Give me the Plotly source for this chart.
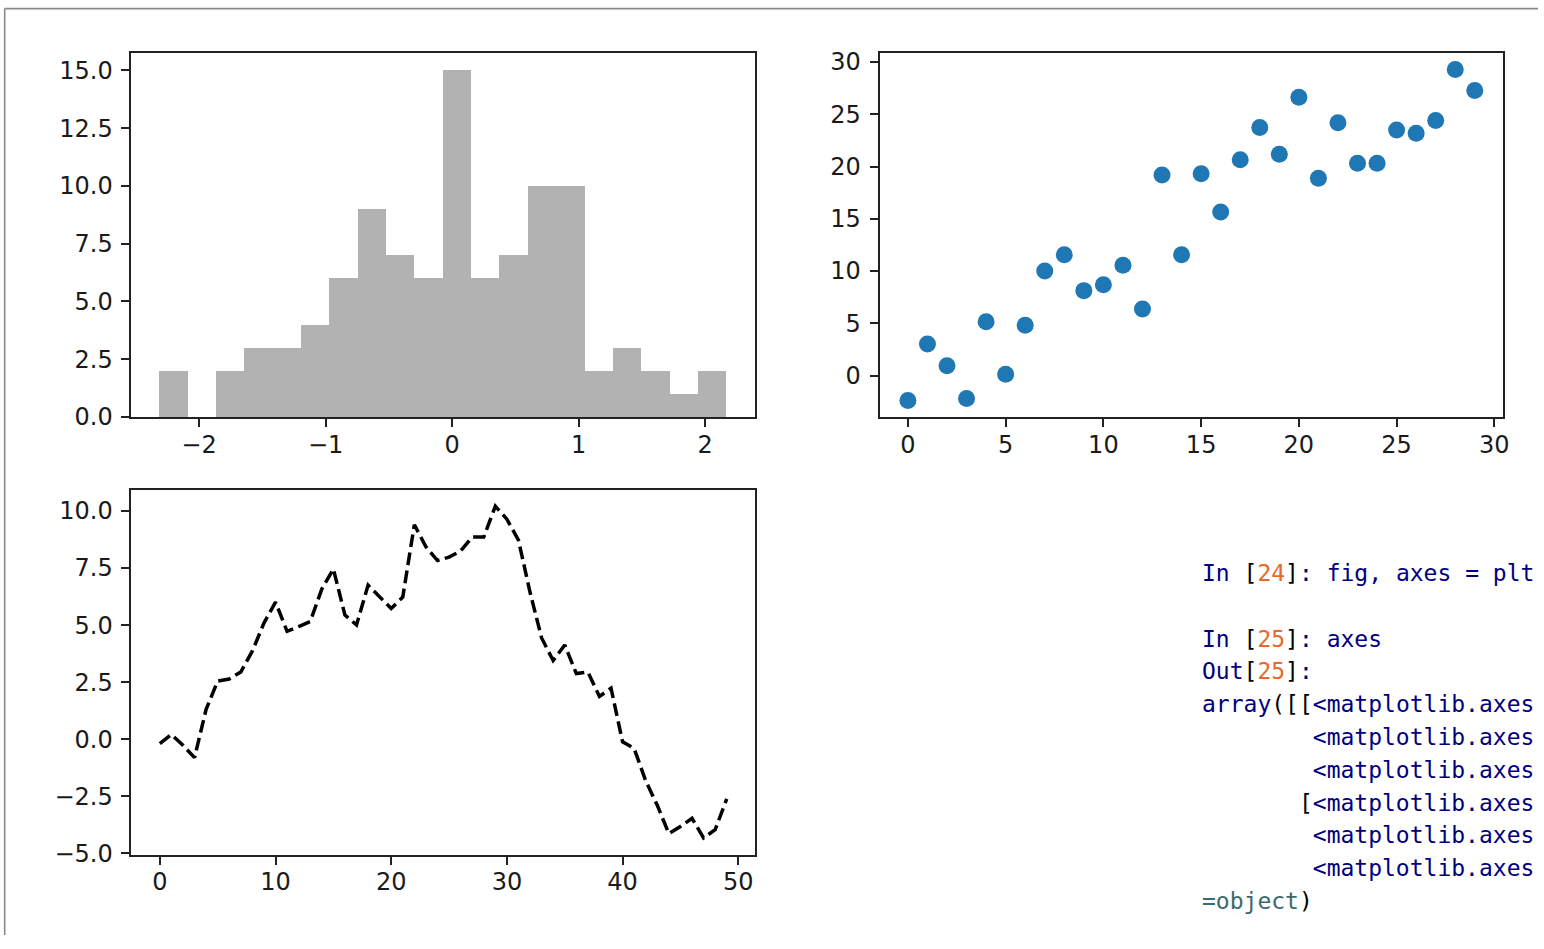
import numpy as np
import plotly.graph_objects as go

# ---- data -------------------------------------------------------------
# histogram: 20 equal bins over [hist_lo, hist_hi]
hist_lo, hist_hi = -2.31, 2.17
hist_counts = [2, 0, 2, 3, 3, 4, 6, 9, 7, 6, 15, 6, 7, 10, 10, 2, 3, 2, 1, 2]

# scatter: x = 0..29
scatter_y = [-2.38, 3.03, 0.94, -2.19, 5.16, 0.13, 4.81, 10.0, 11.56, 8.13,
             8.69, 10.56, 6.38, 19.19, 11.56, 19.31, 15.66, 20.66, 23.75, 21.19,
             26.63, 18.88, 24.19, 20.31, 20.31, 23.5, 23.19, 24.41, 29.28, 27.28]

# cumulative random walk, x = 0..49
walk_y = [-0.19, 0.21, -0.26, -0.80, 1.31, 2.55, 2.64, 2.95, 3.87, 5.09,
          6.01, 4.73, 4.94, 5.16, 6.58, 7.46, 5.44, 5.01, 6.75, 6.25,
          5.73, 6.23, 9.40, 8.43, 7.83, 7.98, 8.25, 8.86, 8.86, 10.21,
          9.64, 8.72, 6.44, 4.44, 3.45, 4.13, 2.88, 2.95, 1.88, 2.24,
          -0.11, -0.40, -1.82, -2.89, -4.13, -3.82, -3.46, -4.32, -3.96, -2.61]

hist_xticks = [-2, -1, 0, 1, 2]
hist_yticks = [0, 2.5, 5, 7.5, 10, 12.5, 15]
scatter_ticks = [0, 5, 10, 15, 20, 25, 30]
walk_xticks = [0, 10, 20, 30, 40, 50]
walk_yticks = [-5, -2.5, 0, 2.5, 5, 7.5, 10]

# console text: each line is a list of (text, colour) pieces
NAVY, BLACK, ORANGE, TEAL = "#00007f", "#000000", "#e8692a", "#3a6b6b"
console_lines = [
    [("In ", NAVY), ("[", BLACK), ("24", ORANGE), ("]", BLACK), (": fig, axes = plt", NAVY)],
    [("In ", NAVY), ("[", BLACK), ("25", ORANGE), ("]", BLACK), (": axes", NAVY)],
    [("Out", NAVY), ("[", BLACK), ("25", ORANGE), ("]", BLACK), (":", NAVY)],
    [("array", NAVY), ("([[", BLACK), ("<matplotlib.axes", NAVY)],
    [("\u00a0" * 8, BLACK), ("<matplotlib.axes", NAVY)],
    [("\u00a0" * 8, BLACK), ("<matplotlib.axes", NAVY)],
    [("\u00a0" * 7 + "[", BLACK), ("<matplotlib.axes", NAVY)],
    [("\u00a0" * 8, BLACK), ("<matplotlib.axes", NAVY)],
    [("\u00a0" * 8, BLACK), ("<matplotlib.axes", NAVY)],
    [("=object", TEAL), (")", BLACK)],
]
console_rows_px = [580.5, 647, 680.4, 713.8, 747.2, 780.6, 814, 847.4, 880.8, 914.2]

# ---- page geometry (pixels) -------------------------------------------
W, H = 1544, 949


def xdom(a, b):
    return [a / W, b / W]


def ydom(top, bottom):
    return [1 - bottom / H, 1 - top / H]


TICK_FONT = dict(family="DejaVu Sans", size=24, color="#1a1a1a")
axis_common = dict(
    showline=True, mirror=True, linecolor="#222", linewidth=2,
    ticks="outside", ticklen=8, tickwidth=2, tickcolor="#222",
    showgrid=False, zeroline=False, tickfont=TICK_FONT,
    fixedrange=True,
)

fig = go.Figure()

# histogram
edges = np.linspace(hist_lo, hist_hi, len(hist_counts) + 1)
centers = (edges[:-1] + edges[1:]) / 2
fig.add_trace(go.Bar(
    x=centers, y=hist_counts, width=edges[1] - edges[0],
    marker=dict(color="#b2b2b2", line=dict(width=0)),
    xaxis="x", yaxis="y", showlegend=False,
))

# scatter
fig.add_trace(go.Scatter(
    x=list(range(len(scatter_y))), y=scatter_y, mode="markers",
    marker=dict(color="#1f77b4", size=17, line=dict(width=0)),
    xaxis="x2", yaxis="y2", showlegend=False,
))

# dashed random walk
fig.add_trace(go.Scatter(
    x=list(range(len(walk_y))), y=walk_y, mode="lines",
    line=dict(color="black", width=3.5, dash="12.8px,5.5px"),
    xaxis="x3", yaxis="y3", showlegend=False,
))

h_span = hist_hi - hist_lo
s_span = max(scatter_y) - min(scatter_y)
w_span = max(walk_y) - min(walk_y)

XSTAND, YSTAND = -3, 4

fig.update_layout(
    width=W, height=H,
    margin=dict(l=0, r=0, t=0, b=0),
    paper_bgcolor="white", plot_bgcolor="white",
    bargap=0,
    xaxis=dict(axis_common, domain=xdom(132, 758), anchor="y",
               range=[hist_lo - 0.05 * h_span, hist_hi + 0.05 * h_span],
               tickvals=hist_xticks, ticklabelstandoff=XSTAND),
    yaxis=dict(axis_common, domain=ydom(50, 421), anchor="x",
               range=[0, max(hist_counts) * 1.05],
               tickvals=hist_yticks, tickformat=".1f", ticklabelstandoff=YSTAND),
    xaxis2=dict(axis_common, domain=xdom(883, 1509), anchor="y2",
                range=[-0.05 * (len(scatter_y) - 1), (len(scatter_y) - 1) * 1.05],
                tickvals=scatter_ticks, ticklabelstandoff=XSTAND),
    yaxis2=dict(axis_common, domain=ydom(50, 421), anchor="x2",
                range=[min(scatter_y) - 0.05 * s_span, max(scatter_y) + 0.05 * s_span],
                tickvals=scatter_ticks, ticklabelstandoff=YSTAND),
    xaxis3=dict(axis_common, domain=xdom(132, 758), anchor="y3",
                range=[-0.05 * (len(walk_y) - 1), (len(walk_y) - 1) * 1.05],
                tickvals=walk_xticks, ticklabelstandoff=XSTAND),
    yaxis3=dict(axis_common, domain=ydom(495, 867), anchor="x3",
                range=[min(walk_y) - 0.05 * w_span, max(walk_y) + 0.05 * w_span],
                tickvals=walk_yticks, tickformat=".1f", ticklabelstandoff=YSTAND),
)

# thin grey frame along the top and left of the page
fig.add_shape(type="line", xref="paper", yref="paper",
              x0=4.7 / W, x1=1, y0=1 - 4.7 / H, y1=1 - 4.7 / H,
              line=dict(color="#8a8a8a", width=1.6))
fig.add_shape(type="line", xref="paper", yref="paper",
              x0=4.7 / W, x1=4.7 / W, y0=0, y1=1 - 4.7 / H,
              line=dict(color="#8a8a8a", width=1.6))

# console session text
for pieces, row in zip(console_lines, console_rows_px):
    html = "".join(f'<span style="color:{c}">{t}</span>' for t, c in pieces)
    fig.add_annotation(
        x=1205 / W, y=1 - row / H, xref="paper", yref="paper",
        xanchor="left", yanchor="middle", showarrow=False,
        text=html, align="left",
        font=dict(family="DejaVu Sans Mono", size=23, color=NAVY),
    )

fig.write_html("out.html")
